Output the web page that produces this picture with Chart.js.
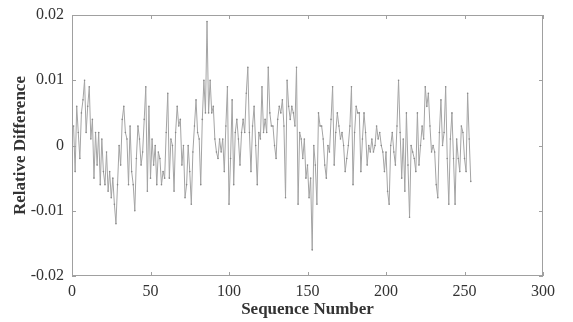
<!DOCTYPE html>
<html>
<head>
<meta charset="utf-8">
<script src="https://cdn.jsdelivr.net/npm/chart.js@4"></script>
<style>
  html, body { margin: 0; padding: 0; background: #fff; }
  #wrap { width: 573px; height: 322px; }
</style>
</head>
<body>
<div id="wrap"><canvas id="chart" width="573" height="322"></canvas></div>
<script>
// relative difference per sequence number
const relDiff = [
  0.003, -0.004, 0.006, 0.002, -0.002, 0.005, 0.007, 0.010, 0.002, 0.006,
  0.009, 0.001, 0.004, -0.005, 0.002, -0.003, 0.002, -0.006, 0.001, -0.004,
  -0.006, -0.001, -0.007, -0.004, -0.008, -0.005, -0.009, -0.012, -0.006, 0.000,
  -0.003, 0.004, 0.006, 0.002, 0.001, -0.006, 0.003, -0.004, -0.006, -0.010,
  -0.002, 0.003, 0.001, -0.003, -0.001, 0.004, 0.009, -0.007, 0.006, -0.005,
  0.001, -0.003, 0.000, -0.006, -0.001, -0.002, -0.006, -0.004, -0.005, 0.002,
  0.008, -0.005, 0.001, 0.000, -0.007, 0.002, 0.006, 0.003, 0.004, -0.003,
  0.000, -0.008, -0.006, 0.000, -0.004, -0.009, -0.001, 0.003, 0.007, 0.002,
  0.001, -0.006, 0.004, 0.010, 0.005, 0.019, 0.005, 0.010, 0.005, 0.006,
  0.001, -0.001, -0.002, 0.001, -0.001, 0.001, -0.004, 0.003, 0.009, -0.009,
  -0.002, 0.007, -0.006, 0.002, 0.004, 0.001, -0.003, 0.002, 0.004, 0.002,
  0.008, 0.012, 0.002, -0.004, 0.003, 0.006, 0.000, -0.006, 0.002, 0.001,
  0.009, 0.002, 0.004, 0.002, 0.012, 0.005, 0.003, 0.003, 0.000, -0.002,
  0.004, 0.006, 0.005, 0.007, 0.003, -0.008, 0.010, 0.006, 0.004, 0.006,
  0.005, 0.003, 0.012, -0.009, 0.002, 0.001, -0.002, 0.001, -0.005, -0.003,
  -0.008, -0.005, -0.016, 0.000, -0.003, -0.009, 0.005, 0.003, 0.003, 0.001,
  -0.003, -0.005, 0.000, -0.001, 0.004, 0.009, -0.003, 0.002, 0.005, 0.003,
  0.001, 0.002, 0.000, -0.004, -0.002, 0.000, 0.003, 0.009, -0.006, 0.002,
  0.006, 0.005, 0.005, -0.004, 0.001, 0.005, 0.002, -0.003, 0.000, -0.001,
  0.001, -0.001, 0.000, 0.003, 0.001, 0.002, 0.000, -0.001, -0.004, -0.001,
  -0.007, -0.009, 0.000, 0.002, -0.001, -0.003, 0.003, 0.010, 0.002, -0.005,
  0.001, -0.007, 0.005, -0.003, -0.011, 0.000, -0.001, -0.002, -0.004, 0.005,
  -0.003, 0.000, 0.003, 0.001, 0.009, 0.006, 0.008, 0.003, -0.001, 0.000,
  -0.001, -0.006, -0.008, 0.002, 0.007, 0.000, 0.002, 0.009, -0.002, -0.009,
  0.001, 0.005, -0.002, -0.009, 0.001, -0.002, -0.004, 0.003, 0.002, -0.002,
  -0.004, 0.008, 0.001, -0.0055
];
const seqNo = relDiff.map((v, i) => i + 1);
const xTicks = [0, 50, 100, 150, 200, 250, 300];
const yTicks = [-0.02, -0.01, 0, 0.01, 0.02];
const yTickLabels = ['-0.02', '-0.01', '0', '0.01', '0.02'];

const serif = "'Liberation Serif', 'DejaVu Serif', serif";

// box round the plot plus short inward ticks, matlab style
const framePlugin = {
  id: 'frame',
  afterDraw(chart) {
    const { ctx, chartArea: a, scales } = chart;
    ctx.save();
    ctx.strokeStyle = '#a0a0a0';
    ctx.lineWidth = 1;
    ctx.strokeRect(a.left + 0.5, a.top + 0.5, a.right - a.left - 1, a.bottom - a.top - 1);
    ctx.beginPath();
    xTicks.forEach(t => {
      const x = Math.round(scales.x.getPixelForValue(t)) + 0.5;
      ctx.moveTo(x, a.bottom); ctx.lineTo(x, a.bottom - 4);
      ctx.moveTo(x, a.top); ctx.lineTo(x, a.top + 4);
    });
    yTicks.forEach(t => {
      const y = Math.round(scales.y.getPixelForValue(t)) + 0.5;
      ctx.moveTo(a.left, y); ctx.lineTo(a.left + 4, y);
      ctx.moveTo(a.right, y); ctx.lineTo(a.right - 4, y);
    });
    ctx.stroke();
    ctx.restore();
  }
};

new Chart(document.getElementById('chart').getContext('2d'), {
  type: 'line',
  data: {
    labels: seqNo,
    datasets: [{
      data: relDiff.map((v, i) => ({ x: seqNo[i], y: v })),
      borderColor: '#a4a4a4',
      borderWidth: 1,
      pointRadius: 0.8,
      pointBackgroundColor: '#888',
      pointBorderWidth: 0,
      tension: 0
    }]
  },
  options: {
    responsive: false,
    animation: false,
    layout: { padding: { top: 15, right: 30, left: 0, bottom: 0 } },
    plugins: { legend: { display: false }, tooltip: { enabled: false } },
    scales: {
      x: {
        type: 'linear',
        min: 0, max: 300,
        afterBuildTicks: s => { s.ticks = xTicks.map(v => ({ value: v })); },
        afterFit: s => { s.height = 46; },
        grid: { display: false },
        border: { display: false },
        ticks: {
          maxRotation: 0,
          padding: -2,
          color: '#333',
          font: { family: serif, size: 16 }
        },
        title: {
          display: true,
          text: 'Sequence Number',
          color: '#333',
          padding: { top: -4, bottom: 2 },
          font: { family: serif, size: 17, weight: 'bold' }
        }
      },
      y: {
        min: -0.02, max: 0.02,
        afterBuildTicks: s => { s.ticks = yTicks.map(v => ({ value: v })); },
        afterFit: s => { s.width = 72; },
        grid: { display: false },
        border: { display: false },
        ticks: {
          padding: 0,
          color: '#333',
          font: { family: serif, size: 16 }
        , callback: v => yTickLabels[yTicks.indexOf(v)] ?? ''
        },
        title: {
          display: true,
          text: 'Relative Difference',
          color: '#333',
          padding: { top: 10, bottom: 0 },
          font: { family: serif, size: 17, weight: 'bold' }
        }
      }
    }
  },
  plugins: [framePlugin]
});
</script>
</body>
</html>
